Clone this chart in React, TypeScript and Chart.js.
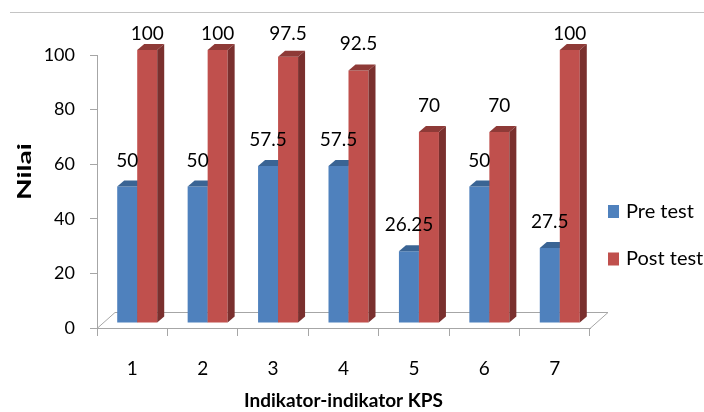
import { useEffect, useRef } from "react";
import { Chart, registerables } from "chart.js";

Chart.register(...registerables);

const categories = ["1", "2", "3", "4", "5", "6", "7"];
const preTest = [50, 50, 57.5, 57.5, 26.25, 50, 27.5];
const postTest = [100, 100, 97.5, 92.5, 70, 70, 100];
const seriesNames = ["Pre test", "Post test"];
const xTitle = "Indikator-indikator KPS";
const yTitle = "Nilai";
const yMin = 0;
const yMax = 100;
const yStep = 20;

const frontColors = ["#4F81BD", "#C0504D"];
const topColors = ["#3A6494", "#8E3A37"];
const sideColors = ["#335A88", "#7A302E"];

const AXIS_GRAY = "#a6a6a6";
const SHIFT_X = 5;
const SHIFT_Y = -5;
const DX = 7;
const DY = 6;
const FLOOR_DX = 18;
const FLOOR_DY = 16;
const FONT = "Lato, 'Open Sans', sans-serif";

const bar3dPlugin = {
  id: "bar3d",
  beforeDraw(chart: any) {
    const ctx = chart.ctx;
    ctx.save();
    ctx.strokeStyle = "#c4c4c4";
    ctx.lineWidth = 1;
    ctx.beginPath();
    ctx.moveTo(10, 12.5);
    ctx.lineTo(chart.width, 12.5);
    ctx.stroke();
    ctx.restore();
  },
  beforeDatasetsDraw(chart: any) {
    const ctx = chart.ctx;
    const { left, right, bottom } = chart.chartArea;
    // floor
    ctx.save();
    ctx.strokeStyle = AXIS_GRAY;
    ctx.lineWidth = 1;
    ctx.beginPath();
    ctx.moveTo(left, bottom + 0.5);
    ctx.lineTo(left + FLOOR_DX, bottom - FLOOR_DY + 0.5);
    ctx.lineTo(right + FLOOR_DX, bottom - FLOOR_DY + 0.5);
    ctx.lineTo(right, bottom + 0.5);
    ctx.stroke();
    ctx.restore();

    // bars, drawn in dataset order so later series cover earlier side faces
    ctx.save();
    ctx.translate(SHIFT_X, SHIFT_Y);
    chart.data.datasets.forEach((_ds: any, i: number) => {
      const meta = chart.getDatasetMeta(i);
      meta.data.forEach((el: any) => {
        el.draw(ctx);
        const { x, y, base, width } = el.getProps(["x", "y", "base", "width"], true);
        const l = x - width / 2;
        const r = x + width / 2;
        ctx.fillStyle = topColors[i];
        ctx.beginPath();
        ctx.moveTo(l, y);
        ctx.lineTo(l + DX, y - DY);
        ctx.lineTo(r + DX, y - DY);
        ctx.lineTo(r, y);
        ctx.closePath();
        ctx.fill();
        ctx.fillStyle = sideColors[i];
        ctx.beginPath();
        ctx.moveTo(r, y);
        ctx.lineTo(r + DX, y - DY);
        ctx.lineTo(r + DX, base - DY);
        ctx.lineTo(r, base);
        ctx.closePath();
        ctx.fill();
      });
    });
    ctx.restore();

    // data labels
    ctx.save();
    ctx.fillStyle = "#000";
    ctx.font = `19px ${FONT}`;
    ctx.textAlign = "center";
    ctx.textBaseline = "alphabetic";
    chart.data.datasets.forEach((ds: any, i: number) => {
      const meta = chart.getDatasetMeta(i);
      meta.data.forEach((el: any, j: number) => {
        const { x, y } = el.getProps(["x", "y"], true);
        const frontTop = y + SHIFT_Y;
        const baseline = Math.max(frontTop - DY - 14, 40);
        ctx.fillText(String(ds.data[j]), x + SHIFT_X, baseline);
      });
    });
    ctx.restore();
    return false;
  },
  afterDraw(chart: any) {
    const ctx = chart.ctx;
    const { right, top, bottom } = chart.chartArea;
    // legend
    ctx.save();
    ctx.font = `20px ${FONT}`;
    ctx.textBaseline = "middle";
    ctx.textAlign = "left";
    const legendY = [211.5, 259];
    chart.data.datasets.forEach((ds: any, i: number) => {
      const cy = legendY[i];
      ctx.fillStyle = ds.backgroundColor;
      ctx.fillRect(right + 18, cy - 6.5, 11, 13);
      ctx.fillStyle = "#000";
      ctx.fillText(ds.label, right + 36, cy);
    });
    ctx.restore();
    // y title
    ctx.save();
    ctx.font = `bold 18px ${FONT}`;
    ctx.fillStyle = "#000";
    ctx.textAlign = "center";
    ctx.textBaseline = "middle";
    const w = ctx.measureText(yTitle).width;
    ctx.translate(25.5, (top + bottom) / 2 - 20);
    ctx.rotate(-Math.PI / 2);
    ctx.scale(57 / w, 1);
    ctx.fillText(yTitle, 0, 0);
    ctx.restore();
  },
};

export default function App() {
  const ref = useRef<HTMLCanvasElement | null>(null);

  useEffect(() => {
    document.body.style.margin = "0";
    const canvas = ref.current;
    if (!canvas) return;
    const chart = new Chart(canvas, {
      type: "bar",
      data: {
        labels: categories,
        datasets: [
          {
            label: seriesNames[0],
            data: preTest,
            backgroundColor: frontColors[0],
            borderWidth: 0,
            categoryPercentage: 0.568,
            barPercentage: 1,
          },
          {
            label: seriesNames[1],
            data: postTest,
            backgroundColor: frontColors[1],
            borderWidth: 0,
            categoryPercentage: 0.568,
            barPercentage: 1,
          },
        ],
      },
      options: {
        animation: false,
        responsive: false,
        devicePixelRatio: 1,
        layout: { padding: { left: 0, top: 55, right: 114, bottom: 0 } },
        plugins: {
          legend: { display: false },
          tooltip: { enabled: false },
        },
        scales: {
          x: {
            afterFit: (s: any) => {
              s.height = 84;
            },
            grid: {
              offset: true,
              drawOnChartArea: false,
              color: AXIS_GRAY,
              tickLength: 8,
            },
            border: { color: AXIS_GRAY },
            ticks: {
              color: "#000",
              font: { family: FONT, size: 19 },
              padding: 21,
            },
            title: {
              display: true,
              text: xTitle,
              color: "#000",
              font: { family: FONT, size: 19, weight: "bold" },
              padding: { top: 0, bottom: 0 },
            },
          },
          y: {
            min: yMin,
            max: yMax,
            afterFit: (s: any) => {
              s.width = 97;
            },
            grid: {
              drawOnChartArea: false,
              color: AXIS_GRAY,
              tickLength: 7,
            },
            border: { color: AXIS_GRAY },
            ticks: {
              stepSize: yStep,
              color: "#000",
              font: { family: FONT, size: 18 },
              padding: 15,
            },
          },
        },
      },
      plugins: [bar3dPlugin],
    });
    return () => chart.destroy();
  }, []);

  return <canvas ref={ref} width={704} height={412} style={{ display: "block" }} />;
}
